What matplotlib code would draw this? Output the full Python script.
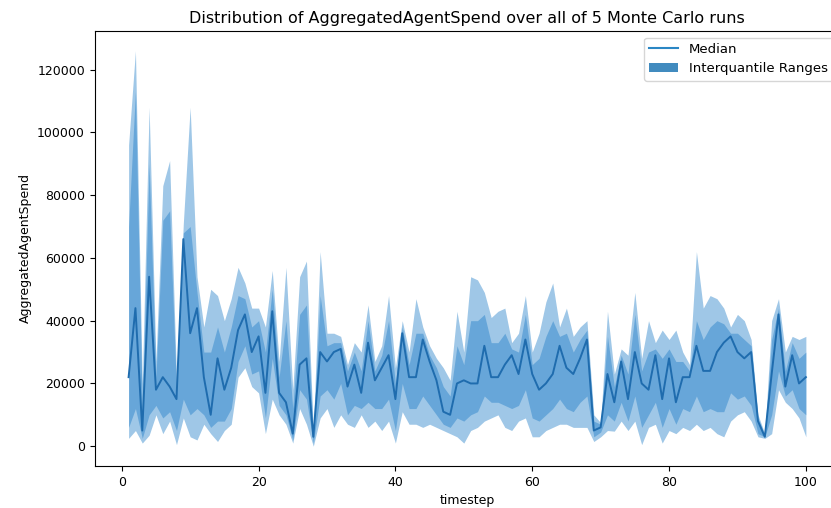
import matplotlib
matplotlib.use("Agg")
import matplotlib.pyplot as plt
from matplotlib.patches import Patch
import numpy as np

timestep = list(range(1, 101))

lower = [2500, 5000, 1000, 3500, 10000, 4000, 8000, 500, 9000, 3000,
         2000, 7000, 4000, 1500, 5000, 7000, 22000, 25000, 19000, 17000,
         4000, 15000, 10000, 7000, 1000, 12000, 7000, 0, 9000, 12000,
         6000, 10000, 7000, 6000, 10000, 6000, 8000, 5000, 8000, 1000,
         11000, 7000, 7000, 6000, 7000, 6000, 5000, 4000, 3000, 1000,
         5000, 6000, 8000, 9000, 10000, 6000, 5000, 8000, 9000, 3000,
         3000, 5000, 6000, 7000, 7000, 6000, 6000, 6000, 1500, 3000,
         5000, 4800, 8000, 5000, 8000, 500, 6000, 7000, 1000, 5000,
         4000, 6000, 5000, 7000, 5000, 6000, 4000, 3000, 8000, 10000,
         11000, 8000, 3000, 2500, 4000, 18000, 14000, 12000, 9000, 3000]

inner_lower = [6000, 12000, 2500, 10000, 13000, 9000, 11000, 5000, 15000, 10000,
               12000, 10000, 6000, 8000, 8000, 12000, 27000, 32000, 23000, 24000,
               9000, 28000, 13000, 10000, 2000, 18000, 15000, 1000, 16000, 18000,
               15000, 20000, 10000, 13000, 12000, 14000, 12000, 12000, 15000, 5000,
               20000, 12000, 12000, 16000, 13000, 10000, 7000, 6000, 9000, 8000,
               10000, 11000, 16000, 14000, 14000, 13000, 12000, 13000, 18000, 9000,
               8000, 10000, 12000, 15000, 12000, 11000, 14000, 16000, 3000, 4500,
               10000, 8000, 14000, 8000, 16000, 6000, 10000, 14000, 6000, 12000,
               7000, 12000, 11000, 16000, 11000, 12000, 11000, 11000, 17000, 15000,
               16000, 13000, 4000, 3000, 10000, 24000, 16000, 18000, 12000, 10000]

median = [22000, 44000, 5000, 54000, 18000, 22000, 19000, 15000, 66000, 36000,
          44000, 22000, 10000, 28000, 18000, 25000, 37000, 42000, 30000, 35000,
          17000, 43000, 17000, 14000, 4000, 26000, 28000, 3000, 30000, 27000,
          30000, 31000, 19000, 26000, 17000, 33000, 21000, 25000, 29000, 15000,
          36000, 22000, 22000, 34000, 27000, 21000, 11000, 10000, 20000, 21000,
          20000, 20000, 32000, 22000, 22000, 26000, 29000, 23000, 34000, 23000,
          18000, 20000, 23000, 32000, 25000, 23000, 28000, 34000, 5000, 6000,
          23000, 14000, 27000, 15000, 30000, 20000, 18000, 29000, 15000, 28000,
          14000, 22000, 22000, 32000, 24000, 24000, 30000, 33000, 35000, 30000,
          28000, 30000, 8000, 3000, 23000, 42000, 19000, 29000, 20000, 22000]

inner_upper = [70000, 113000, 12000, 90000, 22000, 72000, 75000, 18000, 68000, 70000,
               49000, 30000, 30000, 38000, 30000, 38000, 48000, 47000, 38000, 40000,
               30000, 50000, 22000, 40000, 12000, 42000, 45000, 4000, 48000, 32000,
               33000, 33000, 24000, 30000, 24000, 40000, 24000, 29000, 40000, 20000,
               38000, 26000, 36000, 36000, 29000, 25000, 19000, 16000, 32000, 26000,
               40000, 40000, 42000, 33000, 33000, 36000, 31000, 30000, 42000, 26000,
               28000, 35000, 40000, 35000, 36000, 30000, 34000, 37000, 8000, 7000,
               35000, 19000, 29000, 23000, 42000, 24000, 30000, 31000, 28000, 31000,
               27000, 27000, 24000, 40000, 34000, 38000, 40000, 39000, 36000, 36000,
               34000, 32000, 9000, 3500, 34000, 44000, 24000, 33000, 28000, 30000]

upper = [96000, 126000, 20000, 108000, 27000, 83000, 91000, 22000, 71000, 108000,
         54000, 38000, 50000, 48000, 40000, 47000, 57000, 52000, 44000, 44000,
         38000, 56000, 27000, 57000, 18000, 54000, 59000, 5000, 62000, 36000,
         36000, 35000, 26000, 33000, 30000, 45000, 27000, 32000, 48000, 25000,
         40000, 30000, 47000, 38000, 32000, 28000, 25000, 21000, 43000, 30000,
         54000, 53000, 49000, 41000, 43000, 44000, 33000, 36000, 48000, 30000,
         36000, 46000, 52000, 38000, 44000, 35000, 38000, 40000, 10000, 7500,
         43000, 23000, 31000, 29000, 49000, 28000, 40000, 33000, 37000, 34000,
         37000, 30000, 26000, 62000, 44000, 48000, 47000, 44000, 38000, 42000,
         40000, 34000, 10000, 4000, 40000, 47000, 30000, 35000, 34000, 35000]

title = "Distribution of AggregatedAgentSpend over all of 5 Monte Carlo runs"

plt.rcParams['font.family'] = ['DejaVu Sans']
fig = plt.figure(figsize=(8.31, 5.08), dpi=100)
ax = fig.add_axes([0.114, 0.0827, 0.8965, 0.8563])

base = '#1a7ac6'
ax.fill_between(timestep, lower, upper, color=base, alpha=0.42, linewidth=0)
ax.fill_between(timestep, inner_lower, inner_upper, color=base, alpha=0.42, linewidth=0)
ax.plot(timestep, median, color='#1f6cae', linewidth=1.4)

ax.set_title(title, fontsize=11.5)
ax.set_xlabel('timestep', fontsize=9)
ax.set_ylabel('AggregatedAgentSpend', fontsize=9)
ax.tick_params(labelsize=9)

handles = [plt.Line2D([], [], color='#2a86c4', linewidth=1.5),
           Patch(facecolor='#1f77b4', alpha=0.85)]
ax.legend(handles, ['Median', 'Interquantile Ranges'], loc='upper right',
          fontsize=9.5, handlelength=2.2)

fig.savefig('out.png', dpi=100)
